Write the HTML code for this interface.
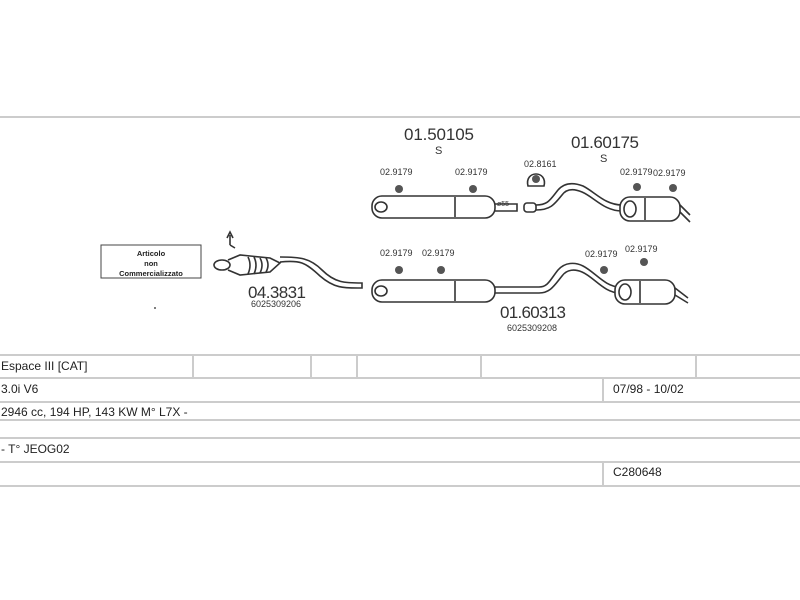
<!DOCTYPE html>
<html><head><style>
body{margin:0;background:#fff;}
svg{display:block;font-family:"Liberation Sans",sans-serif;}
</style></head><body>
<svg width="800" height="600" viewBox="0 0 800 600">
<rect width="800" height="600" fill="#fff"/>
<line x1="0" y1="117" x2="800" y2="117" stroke="#ccc" stroke-width="2"/>
<g fill="#333">
<text x="404" y="140" font-size="17" textLength="70">01.50105</text>
<text x="435" y="154" font-size="11">S</text>
<text x="571" y="148" font-size="17" textLength="68">01.60175</text>
<text x="600" y="162" font-size="11">S</text>
<text x="248" y="298" font-size="17" textLength="58">04.3831</text>
<text x="251" y="307" font-size="9">6025309206</text>
<text x="500" y="318" font-size="17" textLength="66">01.60313</text>
<text x="507" y="331" font-size="9">6025309208</text>
<g font-size="9">
<text x="380" y="175">02.9179</text><text x="455" y="175">02.9179</text>
<text x="524" y="167">02.8161</text>
<text x="620" y="175">02.9179</text><text x="653" y="176">02.9179</text>
<text x="380" y="256">02.9179</text><text x="422" y="256">02.9179</text>
<text x="585" y="257">02.9179</text><text x="625" y="252">02.9179</text>
<text x="497" y="206" font-size="7">ø55</text>
</g>
</g>
<rect x="101" y="245" width="100" height="33" fill="#fff" stroke="#444" stroke-width="1"/>
<g font-size="7.5" font-weight="bold" text-anchor="middle" fill="#222">
<text x="151" y="256">Articolo</text><text x="151" y="266">non</text><text x="151" y="276">Commercializzato</text>
</g>
<g fill="none" stroke="#333" stroke-width="1.6">
<path d="M230 245 v-10 M227 238 l3 -6 l3 6 M230 245 l5 3"/>
<ellipse cx="222" cy="265" rx="8" ry="5"/>
<path d="M228 260 L240 255 L270 258 L280 263 L270 272 L240 275 L228 270"/>
<path d="M248 257 q4 8 0 17 M254 257 q4 8 0 17 M260 258 q4 7 0 15 M266 258 q4 7 0 14"/>
<path d="M280 262 C300 260 305 262 320 276 C335 289 345 288 362 288 v-5 C345 283 335 283 322 270 C310 258 300 257 280 257"/>
<rect x="372" y="196" width="123" height="22" rx="10" fill="#fff"/>
<ellipse cx="381" cy="207" rx="6" ry="5"/>
<line x1="455" y1="197" x2="455" y2="217"/>
<path d="M495 204 h22 v7 h-22"/>
<rect x="524" y="203" width="12" height="9" rx="3"/>
<path d="M536 205 C548 205 550 200 558 190 C565 182 575 183 583 186 C595 192 605 205 622 205 M536 210 C550 210 554 205 562 195 C567 188 575 189 582 192 C594 197 604 211 622 211"/>
<rect x="620" y="197" width="60" height="24" rx="10" fill="#fff"/>
<ellipse cx="630" cy="209" rx="6" ry="8"/>
<line x1="645" y1="198" x2="645" y2="220"/>
<path d="M680 205 L690 215 M680 212 L690 222"/>
<rect x="372" y="280" width="123" height="22" rx="10" fill="#fff"/>
<ellipse cx="381" cy="291" rx="6" ry="5"/>
<line x1="455" y1="281" x2="455" y2="301"/>
<path d="M495 287 h44 C548 287 550 280 558 270 C565 262 575 262 583 266 C595 272 605 287 620 287 M495 293 h44 C550 293 554 286 562 276 C567 269 575 269 582 272 C594 277 604 293 620 293"/>
<rect x="615" y="280" width="60" height="24" rx="10" fill="#fff"/>
<ellipse cx="625" cy="292" rx="6" ry="8"/>
<line x1="640" y1="281" x2="640" y2="303"/>
<path d="M675 288 L688 298 M675 295 L688 303"/>
<path d="M528 186 C524 170 548 170 544 186 Z"/>
</g>
<g fill="#555">
<circle cx="399" cy="189" r="4"/><circle cx="473" cy="189" r="4"/>
<circle cx="637" cy="187" r="4"/><circle cx="673" cy="188" r="4"/>
<circle cx="399" cy="270" r="4"/><circle cx="441" cy="270" r="4"/>
<circle cx="604" cy="270" r="4"/><circle cx="644" cy="262" r="4"/>
<circle cx="536" cy="179" r="4"/>
<circle cx="155" cy="308" r="1"/>
</g>
<g stroke="#ccc" stroke-width="2">
<line x1="0" y1="355" x2="800" y2="355"/>
<line x1="0" y1="378" x2="800" y2="378"/>
<line x1="0" y1="402" x2="800" y2="402"/>
<line x1="0" y1="420" x2="800" y2="420"/>
<line x1="0" y1="438" x2="800" y2="438"/>
<line x1="0" y1="462" x2="800" y2="462"/>
<line x1="0" y1="486" x2="800" y2="486"/>
<line x1="193" y1="355" x2="193" y2="378"/>
<line x1="311" y1="355" x2="311" y2="378"/>
<line x1="357" y1="355" x2="357" y2="378"/>
<line x1="481" y1="355" x2="481" y2="378"/>
<line x1="696" y1="355" x2="696" y2="378"/>
<line x1="603" y1="378" x2="603" y2="402"/>
<line x1="603" y1="462" x2="603" y2="486"/>
</g>
<g font-size="12" fill="#222">
<text x="1" y="370">Espace III  [CAT]</text>
<text x="1" y="393">3.0i V6</text>
<text x="613" y="393">07/98 - 10/02</text>
<text x="1" y="416">2946 cc, 194 HP, 143 KW M° L7X -</text>
<text x="1" y="453">- T° JEOG02</text>
<text x="613" y="476">C280648</text>
</g>
</svg>
</body></html>
